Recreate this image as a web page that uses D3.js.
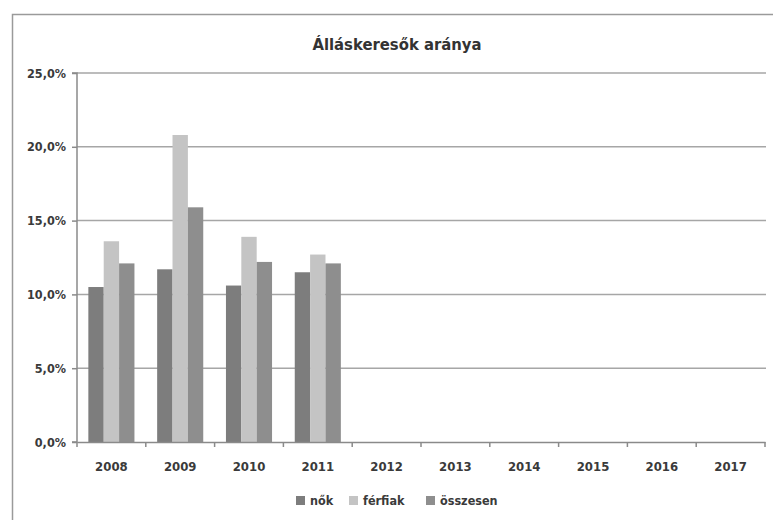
<!DOCTYPE html>
<html><head><meta charset="utf-8">
<script src="https://cdn.jsdelivr.net/npm/d3@7"></script>
<style>body{margin:0;background:#fff;}svg{display:block;}</style>
</head><body>
<svg id="c" width="773" height="520"></svg>
<script>
const title = "Álláskeresők aránya";
const categories = ["2008","2009","2010","2011","2012","2013","2014","2015","2016","2017"];
const seriesNames = ["nők","férfiak","összesen"];
const nok      = [10.5, 11.7, 10.6, 11.5, null, null, null, null, null, null];
const ferfiak  = [13.6, 20.8, 13.9, 12.7, null, null, null, null, null, null];
const osszesen = [12.1, 15.9, 12.2, 12.1, null, null, null, null, null, null];
const yTicks = [0, 5, 10, 15, 20, 25];
const colors = ["#7d7d7d", "#c4c4c4", "#8e8e8e"];

const svg = d3.select("#c");
const font = "'DejaVu Sans Condensed','DejaVu Sans',Arial,sans-serif";
// outer frame
svg.append("path").attr("d","M12.5,520 V14.5 H773").attr("fill","none").attr("stroke","#9a9a9a").attr("stroke-width",1.5);

const L = 77, R = 765, T = 73, B = 442;
const x = d3.scaleBand().domain(categories).range([L, R]).paddingInner(0.33).paddingOuter(0.165);
const x1 = d3.scaleBand().domain(seriesNames).range([0, x.bandwidth()]);
const y = d3.scaleLinear().domain([0, 25]).range([B, T]);

// gridlines
svg.append("g").selectAll("line").data(yTicks.filter(d=>d>0)).join("line")
  .attr("x1", L).attr("x2", R+1).attr("y1", d=>y(d)).attr("y2", d=>y(d))
  .attr("stroke","#a6a6a6").attr("stroke-width",1.5);

// bars
const data = [nok, ferfiak, osszesen];
const g = svg.append("g");
categories.forEach((c, i) => {
  data.forEach((s, k) => {
    if (s[i] == null) return;
    g.append("rect").attr("x", x(c) + x1(seriesNames[k])).attr("width", x1.bandwidth())
      .attr("y", y(s[i])).attr("height", B - y(s[i])).attr("fill", colors[k]);
  });
});

// y axis
const ya = svg.append("g").attr("transform", `translate(${L},0)`)
  .call(d3.axisLeft(y).tickValues(yTicks).tickSize(5).tickPadding(6)
    .tickFormat(d => d3.format(".1f")(d).replace(".", ",") + "%"));
ya.select(".domain").attr("stroke","#8a8a8a").attr("stroke-width",1.5).attr("d",`M-5,${T}H0V${B}H-5`);
ya.selectAll(".tick line").attr("stroke","#8a8a8a").attr("stroke-width",1.5);
ya.selectAll("text").attr("font-family", font).attr("font-weight","bold").attr("font-size","12.5px").attr("fill","#3a3a3a");

// x axis
const xa = svg.append("g").attr("transform", `translate(0,${B})`)
  .call(d3.axisBottom(x).tickSize(0).tickPadding(20));
xa.select(".domain").attr("stroke","#8a8a8a").attr("stroke-width",1.5);
xa.selectAll("text").attr("font-family", font).attr("font-weight","bold").attr("font-size","13px").attr("fill","#3a3a3a");
const bounds = categories.map(c => x(c) - x.step()*x.paddingInner()/2).concat([R]);
svg.append("g").selectAll("line").data(bounds).join("line")
  .attr("x1", d=>d).attr("x2", d=>d).attr("y1", B).attr("y2", B+5)
  .attr("stroke","#8a8a8a").attr("stroke-width",1.5);

// title
svg.append("text").attr("x", 397).attr("y", 50).attr("text-anchor","middle")
  .attr("font-family", font).attr("font-weight","bold").attr("font-size","16.5px").attr("fill","#333").text(title);

// legend
const legX = [296, 349, 426];
const lg = svg.append("g");
seriesNames.forEach((n, k) => {
  lg.append("rect").attr("x", legX[k]).attr("y", 496).attr("width", 9).attr("height", 9).attr("fill", colors[k]);
  lg.append("text").attr("x", legX[k] + 14).attr("y", 505).attr("font-family", font).attr("font-weight","bold")
    .attr("font-size","12.5px").attr("fill","#3a3a3a").text(n);
});
</script>
</body></html>
